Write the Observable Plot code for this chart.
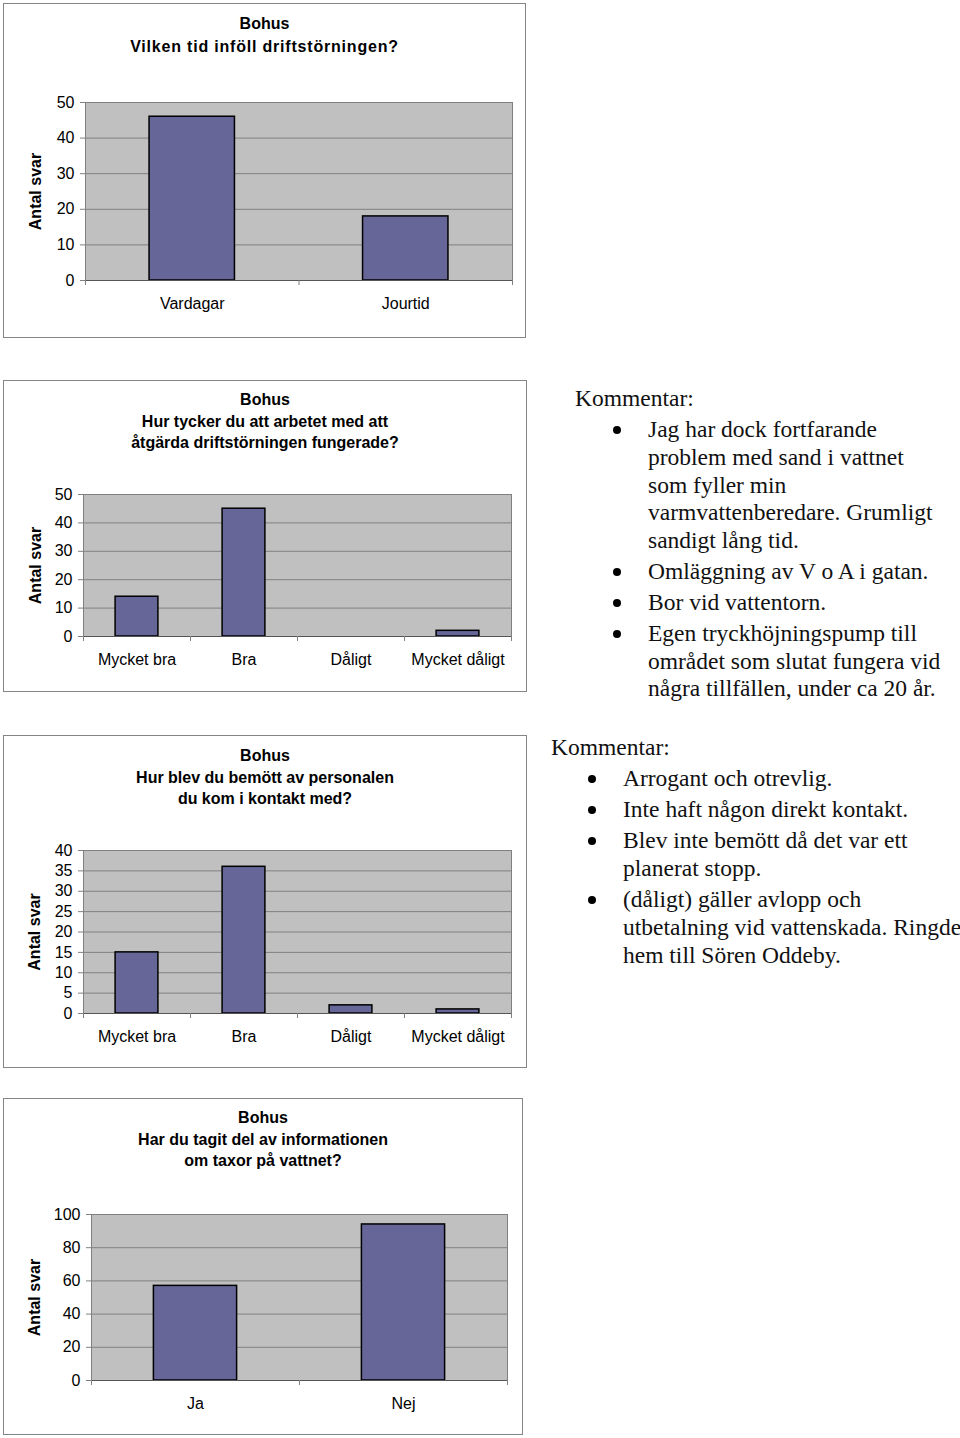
<!DOCTYPE html>
<html>
<head>
<meta charset="utf-8">
<script src="https://cdn.jsdelivr.net/npm/d3@7"></script>
<script src="https://cdn.jsdelivr.net/npm/@observablehq/plot@0.6"></script>
<style>
  body { margin: 0; background: #fff; }
  #page { position: relative; width: 960px; height: 1438px; font-family: "Liberation Sans", Arial, sans-serif; }
  .box { position: absolute; border: 1px solid #858585; box-sizing: border-box; background: #fff; }
  .title { position: absolute; left: 0; right: 0; text-align: center; font-weight: bold; font-size: 16px; color: #000; white-space: nowrap; }
  .chart { position: absolute; }
  .comment { position: absolute; font-family: "Liberation Serif", "Times New Roman", serif; font-size: 23.5px; line-height: 27.7px; color: #111; white-space: nowrap; }
  .comment .item { position: relative; margin-top: 3.3px; }
  .comment .dot { position: absolute; width: 8px; height: 8px; border-radius: 50%; background: #000; }
</style>
</head>
<body>
<div id="page"></div>
<script>
// ---------- data ----------
const titleHead = "Bohus";

const q1Title = ["Vilken tid inföll driftstörningen?"];
const q1Categories = ["Vardagar", "Jourtid"];
const q1Values = [46, 18];
const q1Ticks = [0, 10, 20, 30, 40, 50];

const q2Title = ["Hur tycker du att arbetet med att", "åtgärda driftstörningen fungerade?"];
const q2Categories = ["Mycket bra", "Bra", "Dåligt", "Mycket dåligt"];
const q2Values = [14, 45, 0, 2];
const q2Ticks = [0, 10, 20, 30, 40, 50];

const q3Title = ["Hur blev du bemött av personalen", "du kom i kontakt med?"];
const q3Categories = ["Mycket bra", "Bra", "Dåligt", "Mycket dåligt"];
const q3Values = [15, 36, 2, 1];
const q3Ticks = [0, 5, 10, 15, 20, 25, 30, 35, 40];

const q4Title = ["Har du tagit del av informationen", "om taxor på vattnet?"];
const q4Categories = ["Ja", "Nej"];
const q4Values = [57, 94];
const q4Ticks = [0, 20, 40, 60, 80, 100];

const yLabel = "Antal svar";

const comments1 = [
  ["Jag har dock fortfarande", "problem med sand i vattnet", "som fyller min", "varmvattenberedare. Grumligt", "sandigt lång tid."],
  ["Omläggning av V o A i gatan."],
  ["Bor vid vattentorn."],
  ["Egen tryckhöjningspump till", "området som slutat fungera vid", "några tillfällen, under ca 20 år."]
];
const comments2 = [
  ["Arrogant och otrevlig."],
  ["Inte haft någon direkt kontakt."],
  ["Blev inte bemött då det var ett", "planerat stopp."],
  ["(dåligt) gäller avlopp och", "utbetalning vid vattenskada. Ringde", "hem till Sören Oddeby."]
];
const commentHead = "Kommentar:";

// ---------- layout ----------
const page = document.getElementById("page");

function makeChart(cfg) {
  const { box, frame, titleY, lineH, spacing, cats, vals, ticks, title, labelX } = cfg;
  const boxEl = document.createElement("div");
  boxEl.className = "box";
  Object.assign(boxEl.style, { left: box.x + "px", top: box.y + "px", width: box.w + "px", height: box.h + "px" });
  page.appendChild(boxEl);

  const W = box.w - 2, H = box.h - 2;
  const sx = box.x + 1, sy = box.y + 1;
  const n = cats.length;
  const data = cats.map((c, i) => ({ cat: c, value: vals[i], i }));

  const svg = Plot.plot({
    width: W, height: H,
    marginLeft: frame.l - sx, marginRight: sx + W - frame.r,
    marginTop: frame.t - sy, marginBottom: sy + H - frame.b,
    style: { fontFamily: '"Liberation Sans", Arial, sans-serif', fontSize: "16px", color: "#000", background: "transparent", overflow: "visible" },
    x: { type: "linear", domain: [0, n], axis: null },
    y: { domain: [0, ticks[ticks.length - 1]], axis: null },
    marks: [
      Plot.frame({ fill: "#c0c0c0", stroke: "#808080" }),
      Plot.gridY(ticks, { stroke: "#808080", strokeOpacity: 1 }),
      Plot.rectY(data.filter(d => d.value > 0), { x1: d => d.i + 0.3, x2: d => d.i + 0.7, y1: 0, y2: "value", fill: "#666699", stroke: "#000", strokeWidth: 1.5 }),
      Plot.ruleY([0], { stroke: "#555" }),
      Plot.ruleX([0], { stroke: "#808080" }),
      Plot.axisY({ ticks, tickSize: 5, tickPadding: 6, stroke: "#808080", fill: "#000", label: null, fontSize: 16 }),
      Plot.axisX({ ticks: d3.range(n + 1), tickSize: 5, tickFormat: () => "", stroke: "#808080", label: null }),
      Plot.axisX({ ticks: data.map(d => d.i + 0.5), tickSize: 0, tickPadding: 17.5, tickFormat: t => cats[Math.floor(t)], fill: "#000", label: null, fontSize: 16 }),
      Plot.text([yLabel], { text: d => d, frameAnchor: "left", textAnchor: "middle", dx: labelX - frame.l, rotate: -90, fontWeight: "bold", fontSize: 16, fill: "#000" })
    ]
  });
  const wrap = document.createElement("div");
  wrap.className = "chart";
  wrap.style.left = sx + "px";
  wrap.style.top = sy + "px";
  wrap.appendChild(svg);
  page.appendChild(wrap);

  const t = document.createElement("div");
  t.className = "title";
  t.style.top = (titleY - lineH / 2 - sy) + "px";
  t.style.lineHeight = lineH + "px";
  [titleHead, ...title].forEach((line, k) => {
    const d = document.createElement("div");
    d.textContent = line;
    if (k > 0 && spacing) d.style.letterSpacing = spacing + "px";
    t.appendChild(d);
  });
  boxEl.appendChild(t);
}

makeChart({ box: { x: 3, y: 3, w: 523, h: 335 }, frame: { l: 85, r: 512, t: 102, b: 280 }, titleY: 23, lineH: 23, spacing: 0.8,
  cats: q1Categories, vals: q1Values, ticks: q1Ticks, title: q1Title, labelX: 35 });
makeChart({ box: { x: 3, y: 380, w: 524, h: 312 }, frame: { l: 83, r: 511, t: 494, b: 636 }, titleY: 400, lineH: 21.5,
  cats: q2Categories, vals: q2Values, ticks: q2Ticks, title: q2Title, labelX: 35 });
makeChart({ box: { x: 3, y: 735, w: 524, h: 333 }, frame: { l: 83, r: 511, t: 850, b: 1013 }, titleY: 756, lineH: 21.5,
  cats: q3Categories, vals: q3Values, ticks: q3Ticks, title: q3Title, labelX: 34 });
makeChart({ box: { x: 3, y: 1098, w: 520, h: 337 }, frame: { l: 91, r: 507, t: 1214, b: 1380 }, titleY: 1118, lineH: 21.5,
  cats: q4Categories, vals: q4Values, ticks: q4Ticks, title: q4Title, labelX: 34 });

function makeComments(items, cfg) {
  const { x, y, dotX, textX, lh } = cfg;
  const c = document.createElement("div");
  c.className = "comment";
  c.style.left = x + "px";
  c.style.top = (y - lh / 2) + "px";
  c.style.lineHeight = lh + "px";
  const head = document.createElement("div");
  head.textContent = commentHead;
  c.appendChild(head);
  items.forEach(lines => {
    const it = document.createElement("div");
    it.className = "item";
    it.style.paddingLeft = (textX - x) + "px";
    const dot = document.createElement("span");
    dot.className = "dot";
    dot.style.left = (dotX - 4 - x) + "px";
    dot.style.top = (lh / 2 - 4) + "px";
    it.appendChild(dot);
    lines.forEach(l => { const d = document.createElement("div"); d.textContent = l; it.appendChild(d); });
    c.appendChild(it);
  });
  page.appendChild(c);
}
makeComments(comments1, { x: 575, y: 399, dotX: 617, textX: 648, lh: 27.7 });
makeComments(comments2, { x: 551, y: 748, dotX: 592, textX: 623, lh: 27.8 });
</script>
</body>
</html>
